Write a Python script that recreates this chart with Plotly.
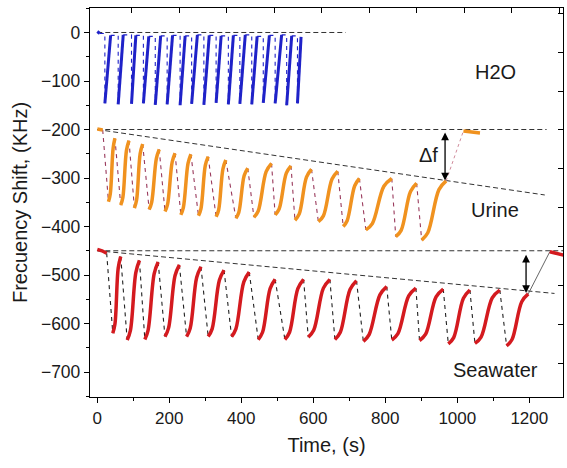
import plotly.graph_objects as go

# ---------------- data (time in s, shift in kHz) ----------------
# H2O
H2O_START_T = [0, 7]
H2O_START_F = [2, -2]
H2O_BOTTOM_T = [21, 58, 95, 128, 161, 194, 230, 262, 296, 330, 364, 396, 429, 461, 494, 526, 556]
H2O_BOTTOM_F = [-146, -148, -147, -146, -149, -148, -150, -147, -149, -145, -148, -147, -148, -145, -146, -150, -146]
H2O_TOP_T = [37, 72, 107, 143, 176, 209, 244, 278, 311, 344, 378, 411, 444, 478, 512, 540, 566]
H2O_TOP_F = [-6, -5, -6, -8, -7, -6, -7, -5, -6, -7, -6, -5, -8, -6, -5, -7, -9]

# Urine: each cycle = bottom, lower bend, upper bend, top
URINE_START_T = [0, 15]
URINE_START_F = [-199, -201]
URINE_CYCLE_T = [
    [31, 36, 44, 49], [65, 71, 81, 88], [103, 109, 119, 126], [144, 151, 164, 172],
    [188, 195, 208, 216], [232, 239, 252, 260], [281, 288, 300, 308], [330, 337, 349, 357],
    [385, 393, 408, 418], [435, 447, 469, 484], [494, 505, 525, 538], [549, 561, 581, 595],
    [614, 628, 652, 668], [683, 694, 715, 728], [746, 764, 796, 818], [829, 844, 870, 887],
    [901, 918, 949, 969],
]
URINE_CYCLE_F = [
    [-349, -333, -238, -218], [-356, -340, -243, -223], [-362, -346, -250, -230], [-365, -350, -260, -241],
    [-369, -355, -267, -249], [-376, -361, -270, -251], [-378, -363, -274, -256], [-380, -366, -281, -263],
    [-383, -371, -295, -280], [-381, -368, -287, -270], [-376, -364, -290, -275], [-387, -374, -298, -282],
    [-390, -378, -302, -286], [-400, -388, -316, -301], [-407, -394, -317, -301], [-421, -408, -328, -311],
    [-428, -413, -324, -306],
]
URINE_END_T = [1017, 1040, 1063]
URINE_END_F = [-203, -205, -207]

# Seawater
SEA_START_T = [0, 13, 26]
SEA_START_F = [-447, -450, -455]
SEA_CYCLE_T = [
    [43, 49, 58, 65], [83, 92, 107, 117], [132, 141, 158, 169], [188, 198, 216, 228],
    [248, 258, 276, 288], [308, 319, 339, 352], [373, 385, 407, 422], [447, 459, 480, 494],
    [521, 534, 557, 573], [586, 601, 628, 646], [660, 675, 702, 720], [739, 755, 785, 804],
    [818, 835, 865, 885], [895, 912, 941, 961], [975, 990, 1017, 1035], [1049, 1066, 1097, 1118],
    [1137, 1152, 1179, 1197],
]
SEA_CYCLE_F = [
    [-620, -601, -486, -462], [-634, -614, -495, -470], [-633, -614, -497, -473], [-627, -609, -501, -479],
    [-627, -610, -505, -483], [-627, -611, -511, -490], [-627, -611, -514, -494], [-633, -618, -528, -509],
    [-633, -618, -528, -509], [-628, -614, -527, -509], [-633, -618, -530, -512], [-637, -623, -541, -524],
    [-634, -621, -543, -527], [-635, -622, -545, -529], [-642, -629, -548, -531], [-641, -628, -547, -531],
    [-646, -633, -555, -539],
]
SEA_END_T = [1257, 1280, 1305]
SEA_END_F = [-452, -456, -461]

# guide lines (start t, start f, end t, end f)
GUIDES = [
    (0, 0, 690, 0),
    (0, -200, 1248, -200),
    (0, -200, 1243, -335),
    (0, -450, 1300, -450),
    (0, -450, 1270, -538),
]
# delta-f arrows (t, f_from, f_to)
ARROWS = [(966, -203, -305), (1191, -455, -537)]
LABELS = [("H2O", 1105, -81), ("Urine", 1105, -366), ("Seawater", 1107, -696), ("\u0394f", 921, -252)]

X_TICKS = [0, 200, 400, 600, 800, 1000, 1200]
Y_TICKS = [0, -100, -200, -300, -400, -500, -600, -700]

BLUE = "#1f22c8"
ORANGE = "#f0921f"
RED = "#d41a1f"
FONT = "Liberation Sans, Arial, sans-serif"

fig = go.Figure()

# guide lines
for (t0, f0, t1, f1) in GUIDES:
    fig.add_trace(go.Scatter(x=[t0, t1], y=[f0, f1], mode="lines",
                             line=dict(color="#333333", width=1, dash="5px,3px"),
                             showlegend=False, hoverinfo="skip"))


def drops(start_t, start_f, cyc_t, cyc_f):
    xs, ys = [], []
    prev = (start_t[-1], start_f[-1])
    for ct, cf in zip(cyc_t, cyc_f):
        xs += [prev[0], ct[0], None]
        ys += [prev[1], cf[0], None]
        prev = (ct[-1], cf[-1])
    return xs, ys


def curves(cyc_t, cyc_f):
    xs, ys = [], []
    for ct, cf in zip(cyc_t, cyc_f):
        xs += list(ct) + [None]
        ys += list(cf) + [None]
    return xs, ys


# ---- H2O ----
h_cyc_t = [[b, t] for b, t in zip(H2O_BOTTOM_T, H2O_TOP_T)]
h_cyc_f = [[b, t] for b, t in zip(H2O_BOTTOM_F, H2O_TOP_F)]
dx, dy = drops(H2O_START_T, H2O_START_F, h_cyc_t, h_cyc_f)
fig.add_trace(go.Scatter(x=dx, y=dy, mode="lines",
                         line=dict(color=BLUE, width=1.1, dash="4px,4px", shape="hv"),
                         showlegend=False, hoverinfo="skip"))
cx, cy = curves(h_cyc_t, h_cyc_f)
fig.add_trace(go.Scatter(x=cx, y=cy, mode="lines", line=dict(color=BLUE, width=3),
                         showlegend=False, hoverinfo="skip"))
fig.add_trace(go.Scatter(x=H2O_START_T, y=H2O_START_F, mode="lines", line=dict(color=BLUE, width=3),
                         showlegend=False, hoverinfo="skip"))

# ---- Urine ----
dx, dy = drops(URINE_START_T, URINE_START_F, URINE_CYCLE_T, URINE_CYCLE_F)
fig.add_trace(go.Scatter(x=dx, y=dy, mode="lines", line=dict(color="#9a3a5c", width=1.1, dash="4px,4px"),
                         showlegend=False, hoverinfo="skip"))
cx, cy = curves(URINE_CYCLE_T, URINE_CYCLE_F)
fig.add_trace(go.Scatter(x=cx, y=cy, mode="lines", line=dict(color=ORANGE, width=3.5, shape="spline"),
                         showlegend=False, hoverinfo="skip"))
fig.add_trace(go.Scatter(x=URINE_START_T, y=URINE_START_F, mode="lines", line=dict(color=ORANGE, width=3.5),
                         showlegend=False, hoverinfo="skip"))
fig.add_trace(go.Scatter(x=[URINE_CYCLE_T[-1][-1], URINE_END_T[0]], y=[URINE_CYCLE_F[-1][-1], URINE_END_F[0]],
                         mode="lines", line=dict(color="#d08a9a", width=1, dash="dot"),
                         showlegend=False, hoverinfo="skip"))
fig.add_trace(go.Scatter(x=URINE_END_T, y=URINE_END_F, mode="lines", line=dict(color=ORANGE, width=3.5),
                         showlegend=False, hoverinfo="skip"))

# ---- Seawater ----
dx, dy = drops(SEA_START_T, SEA_START_F, SEA_CYCLE_T, SEA_CYCLE_F)
fig.add_trace(go.Scatter(x=dx, y=dy, mode="lines", line=dict(color="#222222", width=1.1, dash="4px,4px"),
                         showlegend=False, hoverinfo="skip"))
cx, cy = curves(SEA_CYCLE_T, SEA_CYCLE_F)
fig.add_trace(go.Scatter(x=cx, y=cy, mode="lines", line=dict(color=RED, width=3.5, shape="spline"),
                         showlegend=False, hoverinfo="skip"))
fig.add_trace(go.Scatter(x=SEA_START_T, y=SEA_START_F, mode="lines", line=dict(color=RED, width=3.5),
                         showlegend=False, hoverinfo="skip"))
fig.add_trace(go.Scatter(x=[SEA_CYCLE_T[-1][-1], SEA_END_T[0]], y=[SEA_CYCLE_F[-1][-1], SEA_END_F[0]],
                         mode="lines", line=dict(color="#555555", width=0.9),
                         showlegend=False, hoverinfo="skip"))
fig.add_trace(go.Scatter(x=SEA_END_T, y=SEA_END_F, mode="lines", line=dict(color=RED, width=3.5),
                         showlegend=False, hoverinfo="skip"))

# dummy trace for the mirrored top/right axes
fig.add_trace(go.Scatter(x=[None], y=[None], xaxis="x2", yaxis="y2", showlegend=False, hoverinfo="skip"))

annotations = []
for (t, f0, f1) in ARROWS:
    annotations.append(dict(x=t, y=f1, ax=t, ay=f0, xref="x", yref="y", axref="x", ayref="y",
                            showarrow=True, arrowhead=2, startarrowhead=2, arrowside="end+start",
                            arrowsize=1.2, startarrowsize=1.2, arrowwidth=1.3, arrowcolor="#000000", text=""))
for (txt, t, f) in LABELS:
    annotations.append(dict(x=t, y=f, xref="x", yref="y", text=txt, showarrow=False,
                            font=dict(family=FONT, size=20, color="#1a1a1a")))

axis_common = dict(showgrid=False, zeroline=False, showline=True, linecolor="#000000", linewidth=1.3,
                   tickcolor="#000000", tickwidth=1.2)

fig.update_layout(
    width=567, height=468,
    margin=dict(l=90, r=4, t=8, b=71),
    paper_bgcolor="white", plot_bgcolor="white",
    font=dict(family=FONT, size=17, color="#1a1a1a"),
    xaxis=dict(range=[-20.3, 1293.6], tickvals=X_TICKS, ticktext=[str(v) for v in X_TICKS],
               ticks="outside", ticklen=5,
               minor=dict(dtick=100, ticks="outside", ticklen=3, tickcolor="#000000"),
               title=dict(text="Time, (s)", font=dict(size=20), standoff=11),
               tickfont=dict(size=17), **axis_common),
    yaxis=dict(range=[-751.5, 50.5], tickvals=Y_TICKS,
               ticktext=[str(v).replace("-", "\u2212") for v in Y_TICKS],
               ticks="outside", ticklen=5,
               minor=dict(dtick=50, ticks="outside", ticklen=3, tickcolor="#000000"),
               title=dict(text="Frecuency Shift, (KHz)", font=dict(size=20), standoff=7),
               tickfont=dict(size=17.5), **axis_common),
    xaxis2=dict(overlaying="x", side="top", anchor="y2", range=[-0.876, 9.08], tick0=0, dtick=1,
                ticks="inside", ticklen=5, showticklabels=False, **axis_common),
    yaxis2=dict(overlaying="y", side="right", anchor="x2", range=[-6.864, 3.136], tick0=0, dtick=1,
                ticks="inside", ticklen=5, showticklabels=False, **axis_common),
    annotations=annotations,
)

fig.write_html("out.html")
